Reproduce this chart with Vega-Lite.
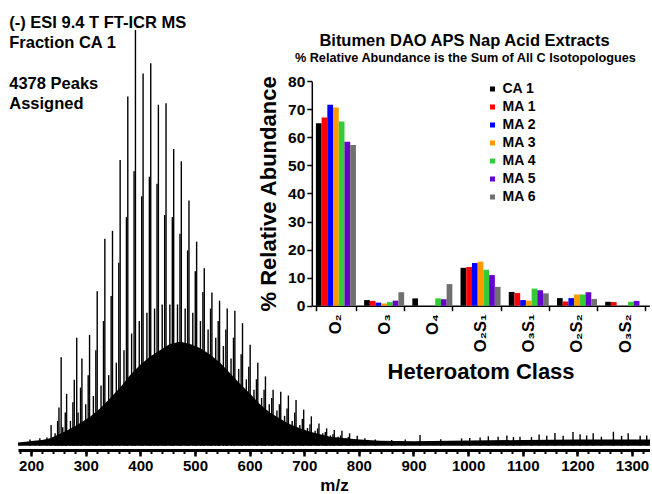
{
  "$schema": "https://vega.github.io/schema/vega-lite/v6.json",
  "background": "white",
  "padding": {"left": 9, "top": 0, "right": 0, "bottom": 0},
  "width": 632,
  "height": 450,
  "config": {
    "view": {"stroke": null},
    "axis": {"grid": false, "labelFont": "Liberation Sans", "titleFont": "Liberation Sans", "labelColor": "black", "titleColor": "black", "domainColor": "black", "tickColor": "black"},
    "legend": {"labelFont": "Liberation Sans"},
    "text": {"font": "Liberation Sans"}
  },
  "datasets": {
    "spectrum": [
      {"mz": 176, "i": 0.8, "kind": "e"}, {"mz": 190, "i": 1.0, "kind": "e"}, {"mz": 205, "i": 1.2, "kind": "e"}, {"mz": 220, "i": 1.4, "kind": "e"},
      {"mz": 235, "i": 1.8, "kind": "e"}, {"mz": 245, "i": 2.4, "kind": "e"}, {"mz": 255, "i": 3, "kind": "e"}, {"mz": 270, "i": 4, "kind": "e"},
      {"mz": 290, "i": 5.5, "kind": "e"}, {"mz": 308, "i": 7, "kind": "e"}, {"mz": 326, "i": 9, "kind": "e"}, {"mz": 345, "i": 11.5, "kind": "e"},
      {"mz": 363, "i": 14, "kind": "e"}, {"mz": 381, "i": 17, "kind": "e"}, {"mz": 400, "i": 19.5, "kind": "e"}, {"mz": 418, "i": 21.5, "kind": "e"},
      {"mz": 436, "i": 23, "kind": "e"}, {"mz": 454, "i": 24.5, "kind": "e"}, {"mz": 473, "i": 25, "kind": "e"}, {"mz": 491, "i": 24.5, "kind": "e"},
      {"mz": 509, "i": 23.5, "kind": "e"}, {"mz": 527, "i": 22, "kind": "e"}, {"mz": 546, "i": 20, "kind": "e"}, {"mz": 564, "i": 17.5, "kind": "e"},
      {"mz": 582, "i": 15, "kind": "e"}, {"mz": 601, "i": 12.5, "kind": "e"}, {"mz": 619, "i": 10, "kind": "e"}, {"mz": 637, "i": 8, "kind": "e"},
      {"mz": 656, "i": 6.5, "kind": "e"}, {"mz": 674, "i": 5.2, "kind": "e"}, {"mz": 692, "i": 4.2, "kind": "e"}, {"mz": 711, "i": 3.4, "kind": "e"},
      {"mz": 729, "i": 2.8, "kind": "e"}, {"mz": 747, "i": 2.2, "kind": "e"}, {"mz": 775, "i": 1.8, "kind": "e"}, {"mz": 802, "i": 1.5, "kind": "e"},
      {"mz": 839, "i": 1.2, "kind": "e"}, {"mz": 900, "i": 1.1, "kind": "e"}, {"mz": 1000, "i": 1.3, "kind": "e"}, {"mz": 1100, "i": 1.4, "kind": "e"},
      {"mz": 1200, "i": 1.5, "kind": "e"}, {"mz": 1333, "i": 1.5, "kind": "e"},
      {"mz": 198, "i": 1.5, "kind": "p"}, {"mz": 216, "i": 1.8, "kind": "p"}, {"mz": 229, "i": 2.0, "kind": "p"}, {"mz": 236.6, "i": 5, "kind": "p"},
      {"mz": 248.5, "i": 6, "kind": "p"}, {"mz": 251, "i": 9.2, "kind": "p"}, {"mz": 255, "i": 21.3, "kind": "p"}, {"mz": 262.5, "i": 8, "kind": "p"},
      {"mz": 265, "i": 12.5, "kind": "p"}, {"mz": 276.5, "i": 10.5, "kind": "p"}, {"mz": 279, "i": 15.9, "kind": "p"}, {"mz": 283.5, "i": 26, "kind": "p"},
      {"mz": 290.5, "i": 14, "kind": "p"}, {"mz": 293, "i": 21, "kind": "p"}, {"mz": 304.5, "i": 17, "kind": "p"}, {"mz": 307, "i": 26.7, "kind": "p"},
      {"mz": 318.5, "i": 23, "kind": "p"}, {"mz": 321, "i": 37.2, "kind": "p"}, {"mz": 332.5, "i": 30, "kind": "p"}, {"mz": 335, "i": 49.8, "kind": "p"},
      {"mz": 346.5, "i": 36, "kind": "p"}, {"mz": 349, "i": 51.7, "kind": "p"}, {"mz": 360.5, "i": 44, "kind": "p"}, {"mz": 363, "i": 68.7, "kind": "p"},
      {"mz": 374.5, "i": 55, "kind": "p"}, {"mz": 377, "i": 84, "kind": "p"}, {"mz": 388.5, "i": 66, "kind": "p"}, {"mz": 391, "i": 100, "kind": "p"},
      {"mz": 402.5, "i": 60, "kind": "p"}, {"mz": 405, "i": 89.5, "kind": "p"}, {"mz": 416.5, "i": 64.7, "kind": "p"}, {"mz": 419, "i": 92, "kind": "p"},
      {"mz": 430.5, "i": 63, "kind": "p"}, {"mz": 433, "i": 82, "kind": "p"}, {"mz": 444.5, "i": 55.5, "kind": "p"}, {"mz": 447, "i": 82.4, "kind": "p"},
      {"mz": 458.5, "i": 55, "kind": "p"}, {"mz": 461, "i": 71.4, "kind": "p"}, {"mz": 472.5, "i": 51, "kind": "p"}, {"mz": 475, "i": 68.4, "kind": "p"},
      {"mz": 486.5, "i": 47, "kind": "p"}, {"mz": 489, "i": 59, "kind": "p"}, {"mz": 500.5, "i": 42, "kind": "p"}, {"mz": 503, "i": 49.1, "kind": "p"},
      {"mz": 514.5, "i": 37, "kind": "p"}, {"mz": 517, "i": 42.7, "kind": "p"}, {"mz": 528.5, "i": 33, "kind": "p"}, {"mz": 531, "i": 36.9, "kind": "p"},
      {"mz": 542.5, "i": 30, "kind": "p"}, {"mz": 545, "i": 34.9, "kind": "p"}, {"mz": 556.5, "i": 28, "kind": "p"}, {"mz": 559, "i": 33, "kind": "p"},
      {"mz": 570.5, "i": 26, "kind": "p"}, {"mz": 573, "i": 32.5, "kind": "p"}, {"mz": 584.5, "i": 22, "kind": "p"}, {"mz": 587, "i": 29.5, "kind": "p"},
      {"mz": 598.5, "i": 19, "kind": "p"}, {"mz": 601, "i": 24.3, "kind": "p"}, {"mz": 612.5, "i": 16, "kind": "p"}, {"mz": 615, "i": 20, "kind": "p"},
      {"mz": 626.5, "i": 13.5, "kind": "p"}, {"mz": 629, "i": 16.7, "kind": "p"}, {"mz": 640.5, "i": 11.5, "kind": "p"}, {"mz": 643, "i": 13.5, "kind": "p"},
      {"mz": 654.5, "i": 10, "kind": "p"}, {"mz": 657, "i": 13, "kind": "p"}, {"mz": 668.5, "i": 9, "kind": "p"}, {"mz": 671, "i": 12.1, "kind": "p"},
      {"mz": 682.5, "i": 8, "kind": "p"}, {"mz": 685, "i": 11, "kind": "p"}, {"mz": 696.5, "i": 6.5, "kind": "p"}, {"mz": 699, "i": 8.7, "kind": "p"},
      {"mz": 710.5, "i": 5.2, "kind": "p"}, {"mz": 713, "i": 7.1, "kind": "p"}, {"mz": 724.5, "i": 4.2, "kind": "p"}, {"mz": 727, "i": 5.4, "kind": "p"},
      {"mz": 738.5, "i": 3.3, "kind": "p"}, {"mz": 741, "i": 4.2, "kind": "p"}, {"mz": 752.5, "i": 2.8, "kind": "p"}, {"mz": 755, "i": 3.8, "kind": "p"},
      {"mz": 766.5, "i": 2.5, "kind": "p"}, {"mz": 769, "i": 3.6, "kind": "p"}, {"mz": 780.5, "i": 2.1, "kind": "p"}, {"mz": 783, "i": 3, "kind": "p"},
      {"mz": 797, "i": 2.4, "kind": "p"}, {"mz": 811, "i": 1.8, "kind": "p"}, {"mz": 830, "i": 1.5, "kind": "p"}, {"mz": 860, "i": 1.4, "kind": "p"},
      {"mz": 885, "i": 1.5, "kind": "p"}, {"mz": 912, "i": 2.6, "kind": "p"}, {"mz": 950, "i": 1.6, "kind": "p"}, {"mz": 988, "i": 1.8, "kind": "p"},
      {"mz": 1003, "i": 1.9, "kind": "p"}, {"mz": 1022, "i": 2.0, "kind": "p"}, {"mz": 1037, "i": 2.3, "kind": "p"}, {"mz": 1055, "i": 2.2, "kind": "p"},
      {"mz": 1071, "i": 2.5, "kind": "p"}, {"mz": 1083, "i": 2.1, "kind": "p"}, {"mz": 1095, "i": 2.2, "kind": "p"}, {"mz": 1116, "i": 2.1, "kind": "p"},
      {"mz": 1130, "i": 2.7, "kind": "p"}, {"mz": 1144, "i": 2.4, "kind": "p"}, {"mz": 1159, "i": 3.1, "kind": "p"}, {"mz": 1174, "i": 2.4, "kind": "p"},
      {"mz": 1192, "i": 3.3, "kind": "p"}, {"mz": 1205, "i": 2.8, "kind": "p"}, {"mz": 1217, "i": 2.5, "kind": "p"}, {"mz": 1229, "i": 3.0, "kind": "p"},
      {"mz": 1244, "i": 2.2, "kind": "p"}, {"mz": 1266, "i": 3.4, "kind": "p"}, {"mz": 1281, "i": 2.4, "kind": "p"}, {"mz": 1293, "i": 3.0, "kind": "p"},
      {"mz": 1315, "i": 2.4, "kind": "p"}, {"mz": 1327, "i": 2.5, "kind": "p"},
      {"mz": 244, "i": 3, "kind": "p"}, {"mz": 258, "i": 4.5, "kind": "p"}, {"mz": 272, "i": 6, "kind": "p"}, {"mz": 286, "i": 8, "kind": "p"},
      {"mz": 300, "i": 10, "kind": "p"}, {"mz": 314, "i": 12, "kind": "p"}, {"mz": 328, "i": 14.5, "kind": "p"}, {"mz": 342, "i": 17, "kind": "p"},
      {"mz": 356, "i": 20, "kind": "p"}, {"mz": 370, "i": 23, "kind": "p"}, {"mz": 384, "i": 27, "kind": "p"}, {"mz": 398, "i": 30, "kind": "p"},
      {"mz": 412, "i": 32, "kind": "p"}, {"mz": 426, "i": 33, "kind": "p"}, {"mz": 440, "i": 34, "kind": "p"}, {"mz": 454, "i": 34, "kind": "p"},
      {"mz": 468, "i": 34, "kind": "p"}, {"mz": 482, "i": 33, "kind": "p"}, {"mz": 496, "i": 32, "kind": "p"}, {"mz": 510, "i": 30, "kind": "p"},
      {"mz": 524, "i": 28, "kind": "p"}, {"mz": 538, "i": 26, "kind": "p"}, {"mz": 552, "i": 24, "kind": "p"}, {"mz": 566, "i": 21, "kind": "p"},
      {"mz": 580, "i": 18.5, "kind": "p"}, {"mz": 594, "i": 16, "kind": "p"}, {"mz": 608, "i": 13.5, "kind": "p"}, {"mz": 622, "i": 11.5, "kind": "p"},
      {"mz": 636, "i": 10, "kind": "p"}, {"mz": 650, "i": 8.5, "kind": "p"}, {"mz": 664, "i": 7.2, "kind": "p"}, {"mz": 678, "i": 6, "kind": "p"},
      {"mz": 692, "i": 5, "kind": "p"}, {"mz": 706, "i": 4.3, "kind": "p"}, {"mz": 720, "i": 3.6, "kind": "p"}, {"mz": 734, "i": 3, "kind": "p"},
      {"mz": 748, "i": 2.5, "kind": "p"}, {"mz": 762, "i": 2.2, "kind": "p"}, {"mz": 776, "i": 1.9, "kind": "p"}, {"mz": 790, "i": 1.6, "kind": "p"}
    ],
    "bars": [
      {"cls": "O₂", "series": "CA 1", "value": 65.0}, {"cls": "O₂", "series": "MA 1", "value": 67.1}, {"cls": "O₂", "series": "MA 2", "value": 71.6},
      {"cls": "O₂", "series": "MA 3", "value": 70.6}, {"cls": "O₂", "series": "MA 4", "value": 65.6}, {"cls": "O₂", "series": "MA 5", "value": 58.4},
      {"cls": "O₂", "series": "MA 6", "value": 57.3},
      {"cls": "O₃", "series": "CA 1", "value": 2.0}, {"cls": "O₃", "series": "MA 1", "value": 1.7}, {"cls": "O₃", "series": "MA 2", "value": 1.1},
      {"cls": "O₃", "series": "MA 3", "value": 0.8}, {"cls": "O₃", "series": "MA 4", "value": 1.3}, {"cls": "O₃", "series": "MA 5", "value": 1.8},
      {"cls": "O₃", "series": "MA 6", "value": 4.8},
      {"cls": "O₄", "series": "CA 1", "value": 2.6}, {"cls": "O₄", "series": "MA 4", "value": 2.6}, {"cls": "O₄", "series": "MA 5", "value": 2.3},
      {"cls": "O₄", "series": "MA 6", "value": 7.7},
      {"cls": "O₂S₁", "series": "CA 1", "value": 13.5}, {"cls": "O₂S₁", "series": "MA 1", "value": 13.8}, {"cls": "O₂S₁", "series": "MA 2", "value": 15.2},
      {"cls": "O₂S₁", "series": "MA 3", "value": 15.7}, {"cls": "O₂S₁", "series": "MA 4", "value": 12.8}, {"cls": "O₂S₁", "series": "MA 5", "value": 10.9},
      {"cls": "O₂S₁", "series": "MA 6", "value": 6.7},
      {"cls": "O₃S₁", "series": "CA 1", "value": 4.9}, {"cls": "O₃S₁", "series": "MA 1", "value": 4.5}, {"cls": "O₃S₁", "series": "MA 2", "value": 2.0},
      {"cls": "O₃S₁", "series": "MA 3", "value": 1.8}, {"cls": "O₃S₁", "series": "MA 4", "value": 6.1}, {"cls": "O₃S₁", "series": "MA 5", "value": 5.5},
      {"cls": "O₃S₁", "series": "MA 6", "value": 4.4},
      {"cls": "O₂S₂", "series": "CA 1", "value": 2.7}, {"cls": "O₂S₂", "series": "MA 1", "value": 1.5}, {"cls": "O₂S₂", "series": "MA 2", "value": 2.7},
      {"cls": "O₂S₂", "series": "MA 3", "value": 4.0}, {"cls": "O₂S₂", "series": "MA 4", "value": 4.0}, {"cls": "O₂S₂", "series": "MA 5", "value": 4.8},
      {"cls": "O₂S₂", "series": "MA 6", "value": 2.4},
      {"cls": "O₃S₂", "series": "CA 1", "value": 1.4}, {"cls": "O₃S₂", "series": "MA 1", "value": 1.3}, {"cls": "O₃S₂", "series": "MA 4", "value": 1.4},
      {"cls": "O₃S₂", "series": "MA 5", "value": 1.7}
    ]
  },
  "layer": [
    {
      "layer": [
        {
          "data": {"name": "spectrum"},
          "transform": [{"filter": "datum.kind === 'e'"}],
          "mark": {"type": "area", "color": "black", "interpolate": "linear"},
          "encoding": {
            "x": {"field": "mz", "type": "quantitative", "scale": {"domain": [176, 1333], "nice": false, "zero": false},
              "axis": {"orient": "bottom", "values": [200, 300, 400, 500, 600, 700, 800, 900, 1000, 1100, 1200, 1300], "format": "d",
                "tickSize": 6, "tickWidth": 2.5, "domainWidth": 3, "labelFontSize": 15, "labelFontWeight": "bold", "labelPadding": 2,
                "labelFlush": false, "labelOverlap": false, "title": "m/z", "titleFontSize": 17, "titleFontWeight": "bold", "titlePadding": 4}},
            "y": {"field": "i", "type": "quantitative", "scale": {"domain": [-1, 107.2], "nice": false, "zero": false}, "axis": null}
          }
        },
        {
          "data": {"name": "spectrum"},
          "transform": [{"filter": "datum.kind === 'p'"}],
          "mark": {"type": "rule", "color": "black", "strokeWidth": 1.4},
          "encoding": {
            "x": {"field": "mz", "type": "quantitative",
              "axis": {"orient": "bottom", "values": [180, 200, 220, 240, 260, 280, 300, 320, 340, 360, 380, 400, 420, 440, 460, 480, 500, 520, 540, 560, 580, 600, 620, 640, 660, 680, 700, 720, 740, 760, 780, 800, 820, 840, 860, 880, 900, 920, 940, 960, 980, 1000, 1020, 1040, 1060, 1080, 1100, 1120, 1140, 1160, 1180, 1200, 1220, 1240, 1260, 1280, 1300, 1320],
                "labels": false, "domain": false, "tickSize": 3.5, "tickWidth": 2, "title": null}},
            "y": {"field": "i", "type": "quantitative", "axis": null},
            "y2": {"datum": 0}
          }
        },
        {
          "data": {"values": [{"note": "(-) ESI 9.4 T FT-ICR MS\nFraction CA 1"}]},
          "mark": {"type": "text", "align": "left", "baseline": "top", "lineBreak": "\n", "lineHeight": 20, "fontSize": 16.5, "fontWeight": "bold", "color": "black"},
          "encoding": {
            "x": {"datum": 160, "type": "quantitative", "axis": null},
            "y": {"datum": 103.5, "type": "quantitative", "axis": null},
            "text": {"field": "note"}
          }
        },
        {
          "data": {"values": [{"note": "4378 Peaks\nAssigned"}]},
          "mark": {"type": "text", "align": "left", "baseline": "top", "lineBreak": "\n", "lineHeight": 20, "fontSize": 16.5, "fontWeight": "bold", "color": "black"},
          "encoding": {
            "x": {"datum": 160, "type": "quantitative", "axis": null},
            "y": {"datum": 89.0, "type": "quantitative", "axis": null},
            "text": {"field": "note"}
          }
        },
        {
          "data": {"values": [{"t": "Bitumen DAO APS Nap Acid Extracts"}]},
          "mark": {"type": "text", "align": "center", "baseline": "middle", "fontSize": 16.5, "fontWeight": "bold", "color": "black"},
          "encoding": {
            "x": {"datum": 993.5, "type": "quantitative", "axis": null},
            "y": {"datum": 97.4, "type": "quantitative", "axis": null},
            "text": {"field": "t"}
          }
        },
        {
          "data": {"values": [{"t": "% Relative Abundance is the Sum of All C Isotopologues"}]},
          "mark": {"type": "text", "align": "center", "baseline": "middle", "fontSize": 12.7, "fontWeight": "bold", "color": "black"},
          "encoding": {
            "x": {"datum": 995, "type": "quantitative", "axis": null},
            "y": {"datum": 93.3, "type": "quantitative", "axis": null},
            "text": {"field": "t"}
          }
        }
      ],
      "resolve": {"axis": {"x": "independent"}}
    },
    {
      "data": {"name": "bars"},
      "mark": {"type": "bar"},
      "encoding": {
        "x": {"field": "cls", "type": "nominal",
          "scale": {"domain": ["O₂", "O₃", "O₄", "O₂S₁", "O₃S₁", "O₂S₂", "O₃S₂"], "range": [293.8, 631.3], "paddingInner": 0.17, "paddingOuter": 0.085},
          "axis": {"orient": "bottom", "offset": -144.3, "title": "Heteroatom Class", "titleFontSize": 22, "titleFontWeight": "bold", "titlePadding": 9,
            "labelAngle": -90, "labelFontSize": 16.5, "labelFontWeight": "bold", "labelPadding": 3, "tickBand": "extent", "tickSize": 5, "tickWidth": 1.5, "domainWidth": 1.5}},
        "xOffset": {"field": "series", "type": "nominal", "scale": {"domain": ["CA 1", "MA 1", "MA 2", "MA 3", "MA 4", "MA 5", "MA 6"]}},
        "y": {"field": "value", "type": "quantitative", "scale": {"domain": [0, 80], "range": [305.7, 81.2], "nice": false},
          "axis": {"orient": "left", "offset": -293.8, "values": [0, 10, 20, 30, 40, 50, 60, 70, 80], "title": "% Relative Abundance", "titleFontSize": 22, "titleFontWeight": "bold", "titlePadding": 7,
            "labelFontSize": 15.5, "labelFontWeight": "bold", "labelPadding": 2, "tickSize": 5, "tickWidth": 1.5, "domainWidth": 1.5}},
        "color": {"field": "series", "type": "nominal",
          "scale": {"domain": ["CA 1", "MA 1", "MA 2", "MA 3", "MA 4", "MA 5", "MA 6"], "range": ["#000000", "#ff0000", "#0000ff", "#ff9900", "#33cc33", "#6600cc", "#707070"]},
          "legend": {"orient": "none", "legendX": 467.5, "legendY": 82, "title": null, "padding": 0, "labelFontSize": 14, "labelFontWeight": "bold", "labelColor": "black",
            "symbolType": "square", "symbolSize": 25, "rowPadding": 4, "labelOffset": 3, "symbolStrokeWidth": 0}}
      }
    }
  ],
  "resolve": {"scale": {"x": "independent", "y": "independent"}, "axis": {"x": "independent", "y": "independent"}}
}
